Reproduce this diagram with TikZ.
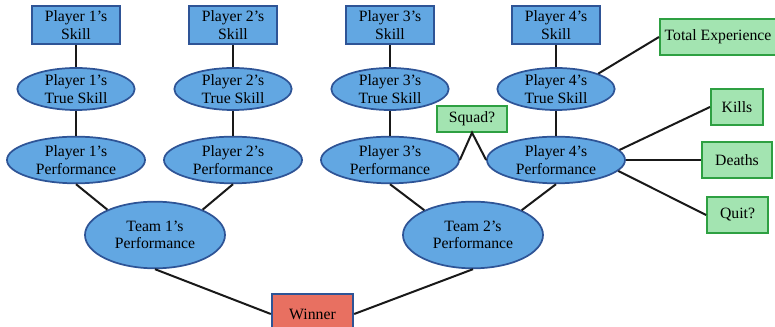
\documentclass[tikz,border=0pt]{standalone}
\usepackage{fontspec}
\setmainfont{Liberation Serif}
\definecolor{nodeblue}{RGB}{98,167,226}
\definecolor{edgeblue}{RGB}{46,84,150}
\definecolor{obsgreen}{RGB}{163,228,177}
\definecolor{edgegreen}{RGB}{46,160,66}
\definecolor{winred}{RGB}{232,112,97}
\usetikzlibrary{shapes.geometric}
\begin{document}
\begin{tikzpicture}[x=0.75pt,y=-0.75pt,
    font=\fontsize{11.8}{13.2}\selectfont,
    skillbox/.style={draw=edgeblue,fill=nodeblue,line width=1.5pt,align=center,
        inner sep=0pt,minimum width=66pt,minimum height=29pt},
    latent/.style={ellipse,draw=edgeblue,fill=nodeblue,line width=1.3pt,align=center,inner sep=0pt},
    trueskill/.style={latent,minimum width=88pt,minimum height=31.5pt},
    perf/.style={latent,minimum width=103.5pt,minimum height=35pt},
    team/.style={latent,minimum width=105pt,minimum height=50pt},
    observed/.style={draw=edgegreen,fill=obsgreen,line width=1.5pt,align=center,
        inner sep=0pt,minimum height=27.5pt},
    link/.style={line width=1.5pt,black!90}]
    \useasboundingbox (0,0) rectangle (775,327);
    % skills and performances of the four players
    \node[skillbox] (skill1) at (76,25) {Player 1's\\Skill};
    \node[skillbox] (skill2) at (233,25) {Player 2's\\Skill};
    \node[skillbox] (skill3) at (390,25) {Player 3's\\Skill};
    \node[skillbox] (skill4) at (556,25) {Player 4's\\Skill};
    \node[trueskill] (true1) at (76,89) {Player 1's\\True Skill};
    \node[trueskill] (true2) at (233,89) {Player 2's\\True Skill};
    \node[trueskill] (true3) at (390,89) {Player 3's\\True Skill};
    \node[trueskill] (true4) at (556,89) {Player 4's\\True Skill};
    \node[perf] (perf1) at (76,160) {Player 1's\\Performance};
    \node[perf] (perf2) at (233,160) {Player 2's\\Performance};
    \node[perf] (perf3) at (390,160) {Player 3's\\Performance};
    \node[perf] (perf4) at (556,160) {Player 4's\\Performance};
    % teams
    \node[team] (team1) at (155,235) {Team 1's\\Performance};
    \node[team] (team2) at (473,235) {Team 2's\\Performance};
    \node[draw=edgeblue,fill=winred,line width=1.5pt,inner sep=0pt,
        minimum width=61pt,minimum height=30pt] (winner) at (312.5,314) {\raisebox{-1pt}{Winner}};
    % observed variables
    \node[observed,minimum width=52pt,minimum height=19pt] (squad) at (472,119) {Squad?};
    \node[observed,minimum width=87pt] (exp) at (718,37) {Total Experience};
    \node[observed,minimum width=39pt] (kills) at (737,107) {Kills};
    \node[observed,minimum width=52pt] (deaths) at (737,160) {Deaths};
    \node[observed,minimum width=45.5pt] (quit) at (737.5,215) {Quit?};
    % connectors
    \foreach \i in {1,2,3,4} {
        \draw[link] (skill\i) -- (true\i);
        \draw[link] (true\i) -- (perf\i);
    }
    \draw[link] (perf1.south) -- (team1.152);
    \draw[link] (perf2.south) -- (team1.28);
    \draw[link] (perf3.south) -- (team2.153);
    \draw[link] (perf4.south) -- (team2.27);
    \draw[link] (team1.south) -- (winner.west);
    \draw[link] (team2.south) -- (winner.east);
    \draw[link] (perf3.east) -- (squad.south) -- (perf4.west);
    \draw[link] (true4.20) -- (exp.west);
    \draw[link] (perf4.9) -- (kills.west);
    \draw[link] (perf4.east) -- (deaths.west);
    \draw[link] (perf4.-10) -- (quit.west);
\end{tikzpicture}
\end{document}
